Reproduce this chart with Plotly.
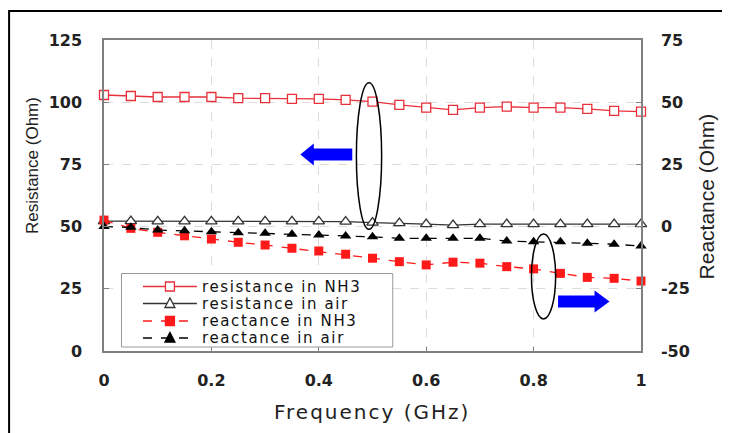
import plotly.graph_objects as go

# ---------------- data ----------------
freq = [0.0, 0.05, 0.1, 0.15, 0.2, 0.25, 0.3, 0.35, 0.4, 0.45, 0.5,
        0.55, 0.6, 0.65, 0.7, 0.75, 0.8, 0.85, 0.9, 0.95, 1.0]

resistance_nh3 = [102.9, 102.5, 102.1, 102.1, 102.1, 101.6, 101.6, 101.3, 101.3, 100.9, 100.2,
                  98.9, 97.8, 96.9, 97.8, 98.2, 97.8, 97.8, 97.3, 96.5, 96.2]
resistance_air = [52.2, 52.2, 52.1, 52.1, 52.1, 52.1, 52.1, 52.1, 52.1, 52.0, 51.6,
                  51.4, 51.0, 50.6, 51.0, 51.0, 51.0, 51.0, 51.0, 51.0, 51.0]
reactance_nh3 = [2.6, -0.7, -2.3, -3.7, -5.0, -6.3, -7.4, -8.7, -9.8, -11.1, -12.7,
                 -14.1, -15.4, -14.3, -14.7, -16.1, -17.0, -18.8, -20.4, -20.8, -21.9]
reactance_air = [0.0, -0.3, -1.4, -1.7, -2.1, -2.5, -2.7, -3.1, -3.4, -3.8, -4.1,
                 -4.7, -4.7, -4.7, -4.7, -5.8, -6.1, -6.1, -6.7, -7.1, -7.8]

series_names = ["resistance in NH3", "resistance in air", "reactance in NH3", "reactance in air"]
x_ticks = [0, 0.2, 0.4, 0.6, 0.8, 1]
x_tick_text = ["0", "0.2", "0.4", "0.6", "0.8", "1"]
y_left_ticks = [0, 25, 50, 75, 100, 125]
y_right_ticks = [-50, -25, 0, 25, 50, 75]
y_right_text = ["-50", "-25", "0", "25", "50", "75"]

# ---------------- layout geometry (pixels in the 730x433 window) ----------------
OFF = 8                       # page body margin
W, H = 730 - OFF, 433 - OFF
PL, PR, PT, PB = 104, 641.5, 40, 351

def px(x):
    return (x - PL) / (PR - PL)

def py(y):
    return (PB - y) / (PB - PT)

RED = "#ff1a1a"
RED_LINE = "#e8303a"
DARK = "#333333"
TICKFONT = dict(family="DejaVu Sans", size=16, color="#222222", weight="bold")

fig = go.Figure()

fig.add_trace(go.Scatter(
    x=freq, y=resistance_nh3, name=series_names[0], mode="lines+markers",
    line=dict(color=RED_LINE, width=1.3),
    marker=dict(symbol="square", size=9, color="white", line=dict(color=RED_LINE, width=1.3)),
    cliponaxis=False, showlegend=False))
fig.add_trace(go.Scatter(
    x=freq, y=resistance_air, name=series_names[1], mode="lines+markers",
    line=dict(color=DARK, width=1.3),
    marker=dict(symbol="triangle-up", size=10, color="white", line=dict(color=DARK, width=1.3)),
    cliponaxis=False, showlegend=False))
fig.add_trace(go.Scatter(
    x=freq, y=reactance_nh3, name=series_names[2], mode="lines+markers", yaxis="y2",
    line=dict(color=RED, width=1.3, dash="dash"),
    marker=dict(symbol="square", size=9, color=RED),
    cliponaxis=False, showlegend=False))
fig.add_trace(go.Scatter(
    x=freq, y=reactance_air, name=series_names[3], mode="lines+markers", yaxis="y2",
    line=dict(color="black", width=1.3, dash="dash"),
    marker=dict(symbol="triangle-up", size=10, color="black"),
    cliponaxis=False, showlegend=False))

shapes = []
annotations = []

# outer frame (left and top edges visible)
shapes.append(dict(type="rect", xref="paper", yref="paper",
                   x0=px(9), x1=px(760), y0=py(470), y1=py(11),
                   line=dict(color="black", width=2), fillcolor="rgba(0,0,0,0)", layer="below"))

# ellipses (data coordinates on the left axis)
shapes.append(dict(type="circle", xref="x", yref="y",
                   x0=0.470, x1=0.517, y0=48.9, y1=107.8,
                   line=dict(color="black", width=1.5)))
shapes.append(dict(type="circle", xref="x", yref="y",
                   x0=0.796, x1=0.841, y0=12.9, y1=47.0,
                   line=dict(color="black", width=1.5)))

# blue arrows
def arrow_path(tail, base, tip, yc, shaft_h, head_h):
    pts = [(tail, yc - shaft_h), (base, yc - shaft_h), (base, yc - head_h), (tip, yc),
           (base, yc + head_h), (base, yc + shaft_h), (tail, yc + shaft_h)]
    return "M " + " L ".join(f"{px(a):.5f},{py(b):.5f}" for a, b in pts) + " Z"

shapes.append(dict(type="path", xref="paper", yref="paper",
                   path=arrow_path(352.5, 314, 300.5, 154.5, 6, 11),
                   fillcolor="#0000ff", line=dict(width=0)))
shapes.append(dict(type="path", xref="paper", yref="paper",
                   path=arrow_path(558.5, 595, 610, 301.5, 6, 11),
                   fillcolor="#0000ff", line=dict(width=0)))

# custom legend
LX0, LX1, LY0, LY1 = 121.5, 393, 273.5, 347
shapes.append(dict(type="rect", xref="paper", yref="paper",
                   x0=px(LX0), x1=px(LX1), y0=py(LY1), y1=py(LY0),
                   line=dict(color="#9a9a9a", width=1), fillcolor="white"))
rows_y = [286.5, 303.5, 321.0, 338.0]
styles = [
    dict(lc=RED_LINE, dash="solid", sym="square", fill="white", mc=RED_LINE),
    dict(lc=DARK, dash="solid", sym="tri", fill="white", mc=DARK),
    dict(lc=RED, dash="dash", sym="square", fill=RED, mc=RED),
    dict(lc="black", dash="dash", sym="tri", fill="black", mc="black"),
]
for ry, st, name in zip(rows_y, styles, series_names):
    shapes.append(dict(type="line", xref="paper", yref="paper",
                       x0=px(143), x1=px(197), y0=py(ry), y1=py(ry),
                       line=dict(color=st["lc"], width=1.3, dash=st["dash"])))
    cx = 170
    if st["sym"] == "square":
        shapes.append(dict(type="rect", xref="paper", yref="paper",
                           x0=px(cx - 4.5), x1=px(cx + 4.5), y0=py(ry + 4.5), y1=py(ry - 4.5),
                           fillcolor=st["fill"], line=dict(color=st["mc"], width=1.3)))
    else:
        path = (f"M {px(cx - 5):.5f},{py(ry + 4):.5f} L {px(cx + 5):.5f},{py(ry + 4):.5f} "
                f"L {px(cx):.5f},{py(ry - 5.5):.5f} Z")
        shapes.append(dict(type="path", xref="paper", yref="paper", path=path,
                           fillcolor=st["fill"], line=dict(color=st["mc"], width=1.3)))
    annotations.append(dict(
        xref="paper", yref="paper", x=px(201), y=py(ry), xanchor="left", yanchor="middle",
        text=f"<span style='letter-spacing:1.6px'>{name}</span>", showarrow=False,
        borderpad=0, font=dict(family="DejaVu Sans", size=15, color="#111111")))

# axis titles
annotations.append(dict(xref="paper", yref="paper", x=px(372), y=py(412),
                        xanchor="center", yanchor="middle", showarrow=False,
                        text="<span style='letter-spacing:2px'>Frequency (GHz)</span>",
                        font=dict(family="DejaVu Sans", size=20, color="#222222")))
annotations.append(dict(xref="paper", yref="paper", x=px(32), y=py(166),
                        xanchor="center", yanchor="middle", showarrow=False, textangle=-90,
                        text="Resistance (Ohm)",
                        font=dict(family="Liberation Sans, Arial", size=17, color="#222222")))
annotations.append(dict(xref="paper", yref="paper", x=px(707), y=py(196),
                        xanchor="center", yanchor="middle", showarrow=False, textangle=-90,
                        text="Reactance (Ohm)",
                        font=dict(family="Liberation Sans, Arial", size=21, color="#222222")))

fig.update_layout(
    width=W, height=H,
    margin=dict(l=PL - OFF, r=W - (PR - OFF), t=PT - OFF, b=H - (PB - OFF), pad=0),
    paper_bgcolor="white", plot_bgcolor="white",
    showlegend=False,
    xaxis=dict(range=[0, 1], tickvals=x_ticks, ticktext=x_tick_text,
               showline=True, linecolor="#808080", linewidth=1.5, mirror=True,
               ticks="inside", ticklen=4, tickcolor="#808080",
               showgrid=True, gridcolor="#dcdcdc", griddash="dash", gridwidth=1,
               zeroline=False, tickfont=TICKFONT, ticklabelstandoff=14),
    yaxis=dict(range=[0, 125], tickvals=y_left_ticks,
               showline=True, linecolor="#808080", linewidth=1.5,
               ticks="inside", ticklen=5, tickcolor="#808080",
               showgrid=True, gridcolor="#dcdcdc", griddash="dash", gridwidth=1,
               zeroline=False, tickfont=TICKFONT, ticklabelstandoff=17),
    yaxis2=dict(range=[-50, 75], tickvals=y_right_ticks, ticktext=y_right_text,
                overlaying="y", side="right",
                showline=True, linecolor="#808080", linewidth=1.5,
                ticks="inside", ticklen=5, tickcolor="#808080",
                showgrid=False, zeroline=False, tickfont=TICKFONT, ticklabelstandoff=15),
    shapes=shapes,
    annotations=annotations,
)

fig.write_html("out.html")
